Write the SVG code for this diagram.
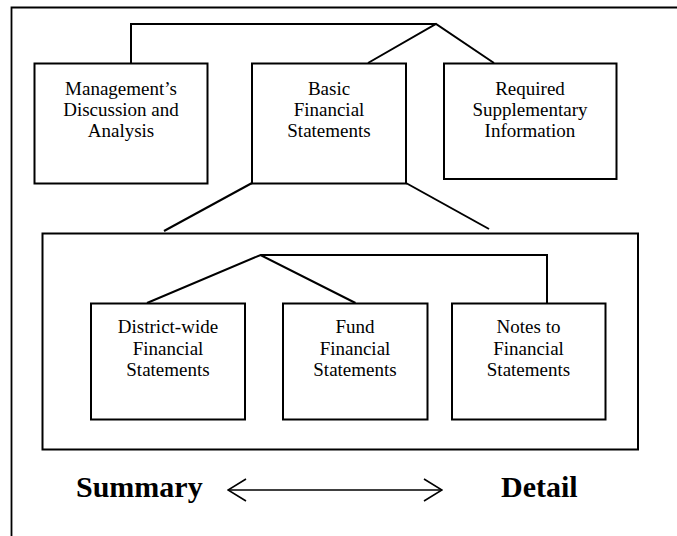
<svg xmlns="http://www.w3.org/2000/svg" width="677" height="536" viewBox="0 0 677 536">
<style>
.box{fill:#fff;stroke:#000;stroke-width:2}
.frame{fill:none;stroke:#000;stroke-width:2}
.ln{fill:none;stroke:#000;stroke-width:2}
.t{font-family:"Liberation Serif","Times New Roman",serif;font-size:19px;text-anchor:middle;fill:#000}
.b{font-family:"Liberation Serif","Times New Roman",serif;font-size:30px;font-weight:bold;fill:#000}
</style>
<defs>
<marker id="chev" viewBox="0 0 20 24" refX="19" refY="12" markerWidth="20" markerHeight="24" markerUnits="userSpaceOnUse" orient="auto-start-reverse">
<path d="M1,1 L19,12 L1,23" fill="none" stroke="#000" stroke-width="1.6"/>
</marker>
</defs>
<rect width="677" height="536" fill="#fff"/>
<path id="frame" d="M11.5,540 V7.5 H680" fill="none" stroke="#000" stroke-width="1.8"/>
<g id="container">
<rect class="frame" x="42.5" y="233.5" width="595.5" height="216"/>
</g>
<g id="connectors">
<path class="ln" d="M131,63 V24 H436"/>
<path class="ln" d="M368,63 L436,24 L494,63"/>
<path class="ln" d="M252,183 L164,231"/>
<path class="ln" d="M406,183 L489,229"/>
<path class="ln" d="M147,303 L260.5,255 L355.5,303"/>
<path class="ln" d="M260.5,255 H547 V303"/>
<line x1="228" y1="490" x2="442" y2="490" stroke="#000" stroke-width="1.6" marker-start="url(#chev)" marker-end="url(#chev)"/>
</g>
<g id="mda">
<rect class="box" x="34.5" y="63.5" width="173" height="120"/>
<text class="t"><tspan x="121" y="95">Management’s</tspan><tspan x="121" y="116">Discussion and</tspan><tspan x="121" y="137">Analysis</tspan></text>
</g>
<g id="bfs">
<rect class="box" x="252" y="63.5" width="154" height="120"/>
<text class="t"><tspan x="329" y="95">Basic</tspan><tspan x="329" y="116">Financial</tspan><tspan x="329" y="137">Statements</tspan></text>
</g>
<g id="rsi">
<rect class="box" x="444" y="63.5" width="172.5" height="115.5"/>
<text class="t"><tspan x="530" y="95">Required</tspan><tspan x="530" y="116">Supplementary</tspan><tspan x="530" y="137">Information</tspan></text>
</g>
<g id="dwfs">
<rect class="box" x="91" y="303.5" width="154" height="116"/>
<text class="t"><tspan x="168" y="333">District-wide</tspan><tspan x="168" y="354.5">Financial</tspan><tspan x="168" y="376">Statements</tspan></text>
</g>
<g id="ffs">
<rect class="box" x="283" y="303.5" width="144.5" height="116"/>
<text class="t"><tspan x="355" y="333">Fund</tspan><tspan x="355" y="354.5">Financial</tspan><tspan x="355" y="376">Statements</tspan></text>
</g>
<g id="nfs">
<rect class="box" x="452" y="303.5" width="153.5" height="116"/>
<text class="t"><tspan x="528.5" y="333">Notes to</tspan><tspan x="528.5" y="354.5">Financial</tspan><tspan x="528.5" y="376">Statements</tspan></text>
</g>
<g id="summary"><text class="b" x="76" y="497">Summary</text></g>
<g id="detail"><text class="b" x="501" y="497">Detail</text></g>
</svg>
